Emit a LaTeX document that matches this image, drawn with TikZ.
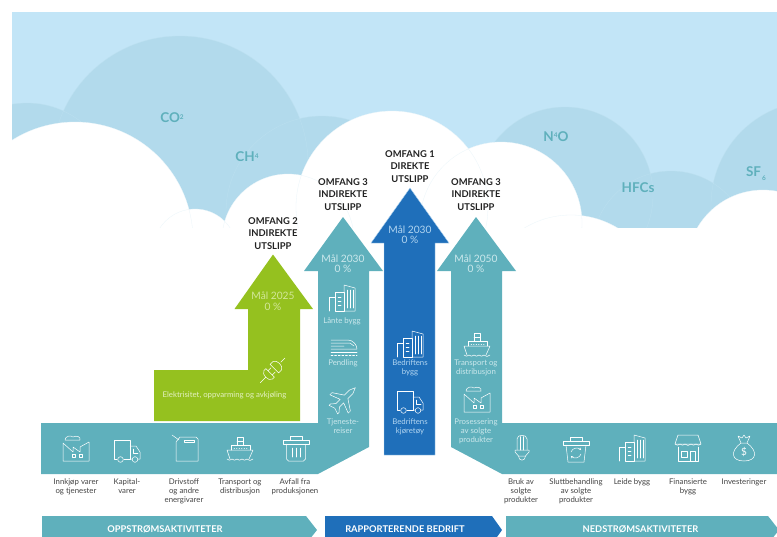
\documentclass[tikz,border=0pt]{standalone}
\usepackage{fontspec}
\setmainfont{Lato}
\usetikzlibrary{arrows.meta}
\definecolor{skyc}{HTML}{C2E5F7}
\definecolor{cloudc}{HTML}{B2DAEC}
\definecolor{edgedark}{HTML}{BCE0F0}
\definecolor{edgewhite}{HTML}{EAF5FA}
\definecolor{tealc}{HTML}{5FB0BC}
\definecolor{bluec}{HTML}{1F6FBA}
\definecolor{greenc}{HTML}{95C11F}
\definecolor{paleteal}{HTML}{CBE8EC}
\definecolor{paleblue}{HTML}{B0D4F0}
\definecolor{palegreen}{HTML}{D3E79A}
\definecolor{inkc}{HTML}{222222}
\definecolor{greyc}{HTML}{444444}
\tikzset{
 ic/.style={draw=white,line width=.5pt,line join=round,line cap=round},
 gas/.style={text=tealc,font=\fontsize{13.5}{15}\selectfont\bfseries,inner sep=0pt},
 title/.style={text=inkc,align=center,inner sep=0pt,font=\fontsize{9.4}{12.4}\selectfont\bfseries},
 goal/.style={align=center,inner sep=0pt,font=\fontsize{10.2}{10.5}\selectfont},
 lab/.style={align=center,inner sep=0pt,font=\fontsize{7.8}{9.1}\selectfont},
 under/.style={lab,text=greyc},
 band/.style={text=white,inner sep=0pt,font=\fontsize{9.3}{10}\selectfont\bfseries},
 factory/.pic={
  \draw[ic] (-13,13)--(-13,-5)--(-3,4)--(-3,-1)--(4,4)--(4,-1)--(13,-6)--(13,13)--cycle;
  \draw[ic] (-4,6) rectangle (-0.5,9.5) (3,6) rectangle (6.5,9.5);
  \draw[ic] (-11,-8)..controls (-11,-12) and (-5,-13)..(-3,-11)..controls (1,-13) and (5,-11)..(4,-8)--cycle;
 },
 truck/.pic={
  \draw[ic] (-10,9)--(-13,9)--(-13,-10)--(3,-10)--(3,9)--(-3,9);
  \draw[ic] (3,-4)--(9,-4)--(13,2)--(13,9)--(11,9) (5,9)--(3,9);
  \draw[ic] (6,-1)--(6,3)--(11,3);
  \draw[ic] (-6.5,9.5) circle (2.8) (8,9.5) circle (2.8);
 },
 canister/.pic={
  \draw[ic] (-6,-11)--(10,-11)--(12,-9)--(12,13)--(-10,13)--(-10,-6)--cycle;
  \draw[ic] (-2,-8) rectangle (8,-5.5);
  \draw[ic] (-7,-8)--(-14,-13);
 },
 ship/.pic={
  \draw[ic] (-13,1)--(13,1)--(9,10) (-13,1)--(-10,10);
  \draw[ic] (-9,1)--(-9,-4)--(10,-4)--(10,1) (-3,-4)--(-3,-12)--(3,-12)--(3,-4) (-3,-8)--(3,-8);
  \draw[ic,dotted] (-6,-1)--(7,-1);
  \draw[ic] (-13,10) to[bend right=60] (-8,10) to[bend right=60] (-3,10) to[bend right=60] (2,10) to[bend right=60] (7,10) to[bend right=60] (13,10);
 },
 bin/.pic={
  \draw[ic] (-13,-8) rectangle (13,-4);
  \draw[ic] (-6,-8)--(-6,-12)--(6,-12)--(6,-8);
  \draw[ic] (-9.5,-4)--(-9.5,11) to[bend right=30] (-7.5,13)--(7.5,13) to[bend right=30] (9.5,11)--(9.5,-4);
  \draw[ic] (-4,0)--(-4,9) (0,0)--(0,9) (4,0)--(4,9);
 },
 recyc/.pic={
  \draw[ic] (-13,-8) rectangle (13,-4);
  \draw[ic] (-6,-8)--(-6,-12)--(6,-12)--(6,-8);
  \draw[ic] (-10,-4)--(-8,13)--(8,13)--(10,-4);
  \draw[ic,-{Stealth[length=2.2pt,width=2.4pt]}] (-5,3)..controls (-4,-1) and (2,-2)..(5,1);
  \draw[ic,-{Stealth[length=2.2pt,width=2.4pt]}] (5,5)..controls (4,9) and (-2,10)..(-5,7);
 },
 towers/.pic={
  \draw[ic] (-13,13)--(-13,-1)--(-7,-1);
  \draw[ic] (-7,13)--(-7,-6)--(2,-6)--(2,13)--cycle;
  \draw[ic] (-4,-1)--(-1,-1) (-4,3)--(-1,3) (-4,7)--(-1,7);
  \draw[ic] (2,-6)--(2,-13)--(13,-10)--(13,13)--(2,13);
  \draw[ic] (5,-8)--(5,10) (8,-8)--(8,10) (11,-8)--(11,10);
 },
 train/.pic={
  \draw[ic] (-13,-8)--(4,-8)..controls (9,-8) and (13,-3)..(13,1)--(-13,1);
  \draw[ic] (-13,-5)--(6,-5)--(10,-2) (-13,-2)--(0,-2);
  \draw[ic] (-13,4)--(13,4);
  \draw[ic,dash pattern=on 2pt off 1.6pt] (-13,7)--(13,7);
 },
 plane/.pic={
  \draw[ic,rotate=45] (16,0)--(10,-2.5)--(3,-2.5)--(-4,-13)--(-7,-13)--(-3,-2.5)--(-9,-2.5)--(-13,-6)--(-15,-6)--(-13,0)--(-15,6)--(-13,6)--(-9,2.5)--(-3,2.5)--(-7,13)--(-4,13)--(3,2.5)--(10,2.5)--cycle;
 },
 plug/.pic={
  \begin{scope}[rotate=45]
  \draw[ic] (-18,0)--(-10,0);
  \draw[ic] (-4,-6)--(-7,-6) to[bend right=70] (-7,6)--(-4,6)--cycle;
  \draw[ic] (-4,-3)--(0,-3) (-4,3)--(0,3);
  \draw[ic] (2,-6)--(2,6)--(6,6) to[bend right=70] (6,-6)--cycle;
  \draw[ic] (11,0)--(17,0);
  \end{scope}
 },
 bulb/.pic={
  \draw[ic] (-5,2)--(-5,-9)..controls (-5,-14) and (5,-14)..(5,-9)--(5,2);
  \draw[ic] (-1.7,-11.5)--(-1.7,2) (1.7,-11.5)--(1.7,2);
  \draw[ic] (-7,2)--(7,2)--(7,4)--(3.5,8)--(-3.5,8)--(-7,4)--cycle;
  \draw[ic] (-3.5,8)..controls (-3.5,13.5) and (3.5,13.5)..(3.5,8);
 },
 shop/.pic={
  \draw[ic] (-10,-13)--(10,-13)--(13,-4)--(-13,-4)--cycle;
  \draw[ic] (-13,-4) to[bend right=60] (-8,-4) to[bend right=60] (-3,-4) to[bend right=60] (3,-4) to[bend right=60] (8,-4) to[bend right=60] (13,-4);
  \draw[ic] (-10,-1)--(-10,13)--(10,13)--(10,-1);
  \draw[ic] (-7,3) rectangle (-1,9);
  \draw[ic] (2,13)--(2,3)--(7,3)--(7,13);
 },
 moneybag/.pic={
  \draw[ic] (-3,-5)..controls (-14,3) and (-13,13)..(0,13)..controls (13,13) and (14,3)..(3,-5)--cycle;
  \draw[ic] (-3,-5)--(-6,-12)--(-2,-10)--(0,-13)--(2,-10)--(6,-12)--(3,-5);
 },
}
\begin{document}
\begin{tikzpicture}[x=1pt,y=-1pt]
\useasboundingbox (0,0) rectangle (777,536);
% sky and clouds
\begin{scope}
 \clip (12,12) rectangle (777,227);
 \fill[skyc] (12,12) rectangle (777,227);
 \fill[cloudc] (180,164) circle (128) (27,190) circle (87) (322,212) circle (96)
   (565,195) circle (88) (671,250) circle (79) (815,205) circle (104);
 \draw[edgedark,line width=.3pt] (180,164) circle (128) (27,190) circle (87) (322,212) circle (96)
   (565,195) circle (88) (671,250) circle (79) (815,205) circle (104);
 \fill[white] (75,240) circle (118) (195,251) circle (42) (288,240) circle (66)
   (392,207) circle (96) (501,223) circle (81) (571,305) circle (90) (763,266) circle (76);
 \draw[edgewhite,line width=.3pt] (75,240) circle (118) (195,251) circle (42) (288,240) circle (66)
   (392,207) circle (96) (501,223) circle (81) (571,305) circle (90) (763,266) circle (76);
\end{scope}
\node[gas] (co2) at (172,118) {CO\raisebox{3.5pt}{\fontsize{6.5}{6}\selectfont 2}};
\node[gas] (ch4) at (247,157) {CH\raisebox{3.5pt}{\fontsize{6.5}{6}\selectfont 4}};
\node[gas] (n4o) at (556,136.5) {N\raisebox{3.5pt}{\fontsize{6.5}{6}\selectfont 4}O};
\node[gas] (hfc) at (638,187.5) {HFCs};
\node[gas] (sf6) at (756,174) {SF\raisebox{-4pt}{\fontsize{6.5}{6}\selectfont\,6}};
% arrows
\fill[greenc] (273,254.5)--(313,309)--(300,309)--(300,421)--(154,421)--(154,370)--(248,370)--(248,309)--(234.5,309)--cycle;
\fill[tealc] (343,217)--(383,271)--(369,271)--(369,447)--(318,474)--(41,474)--(41,423)--(318,423)--(318,271)--(304,271)--cycle;
\fill[tealc] (476,217)--(516,271)--(502,271)--(502,423)--(777,423)--(777,474)--(502,474)--(451,447)--(451,271)--(437,271)--cycle;
\filldraw[fill=bluec,draw=paleblue,line width=.4pt] (410,188)--(449,243)--(435,243)--(435,455)--(384,455)--(384,243)--(371,243)--cycle;
% bottom bands
\fill[tealc] (42,516)--(306,516)--(317,530)--(306,544)--(42,544)--cycle;
\fill[bluec] (325,516)--(492,516)--(502,530)--(492,544)--(325,544)--cycle;
\fill[tealc] (506,516)--(768,516)--(779,530)--(768,544)--(506,544)--cycle;
\node[band] (up) at (165,529.5) {OPPSTRØMSAKTIVITETER};
\node[band] (rep) at (405,529.5) {RAPPORTERENDE BEDRIFT};
\node[band] (down) at (640.5,529.5) {NEDSTRØMSAKTIVITETER};
% titles
\node[title] (t2) at (273,233.5) {OMFANG 2\\INDIREKTE\\UTSLIPP};
\node[title] (t3a) at (343,194.5) {OMFANG 3\\INDIREKTE\\UTSLIPP};
\node[title] (t1) at (410,166.5) {OMFANG 1\\DIREKTE\\UTSLIPP};
\node[title] (t3b) at (476,194.5) {OMFANG 3\\INDIREKTE\\UTSLIPP};
% goals
\node[goal,text=palegreen] (g2) at (273,301) {Mål 2025\\0 \%};
\node[goal,text=paleteal] (g3a) at (343,263.5) {Mål 2030\\0 \%};
\node[goal,text=paleblue] (g1) at (410,234.5) {Mål 2030\\0 \%};
\node[goal,text=paleteal] (g3b) at (476,263.5) {Mål 2050\\0 \%};
% labels in arrows
\node[lab,text=palegreen!60!white] (el) at (224.5,395) {Elektrisitet, oppvarming og avkjøling};
\node[lab,text=paleteal] (l1) at (342,321) {Lånte bygg};
\node[lab,text=paleteal] (l2) at (343,363) {Pendling};
\node[lab,text=paleteal] (l3) at (343,426.5) {Tjeneste-\\reiser};
\node[lab,text=paleblue] (l4) at (410,367.5) {Bedriftens\\bygg};
\node[lab,text=paleblue] (l5) at (410,426.5) {Bedriftens\\kjøretøy};
\node[lab,text=paleteal] (l6) at (476,367.5) {Transport og\\distribusjon};
\node[lab,text=paleteal] (l7) at (476,431) {Prosessering\\av solgte\\produkter};
% labels under
\node[under] (u1) at (76,486.5) {Innkjøp varer\\og tjenester};
\node[under] (u2) at (127,486.5) {Kapital-\\varer};
\node[under] (u3) at (184,491) {Drivstoff\\og andre\\energivarer};
\node[under] (u4) at (240,486.5) {Transport og\\distribusjon};
\node[under] (u5) at (295,486.5) {Avfall fra\\produksjonen};
\node[under] (u6) at (521,491) {Bruk av\\solgte\\produkter};
\node[under] (u7) at (576,491.5) {Sluttbehandling\\av solgte\\produkter};
\node[under] (u8) at (632,482) {Leide bygg};
\node[under] (u9) at (688,486.5) {Finansierte\\bygg};
\node[under] (u10) at (744,482) {Investeringer};
% icons
\path (76,448) pic {factory} (127,450) pic {truck} (186,448) pic {canister} (240,449) pic {ship} (296,448) pic {bin};
\path (522,448) pic {bulb} (576,449) pic {recyc} (632,448) pic {towers} (688,448) pic {shop} (744,448) pic {moneybag};
\path (342,298) pic {towers} (344,348) pic {train} (344,399) pic {plane};
\path (410,344) pic {towers} (410,401) pic {truck};
\path (477,345) pic {ship} (477,399) pic {factory};
\path (273,370) pic {plug};
\node[text=white,inner sep=0pt,font=\fontsize{10}{10}\selectfont] (dollar) at (744,452) {\$};
\end{tikzpicture}
\end{document}
